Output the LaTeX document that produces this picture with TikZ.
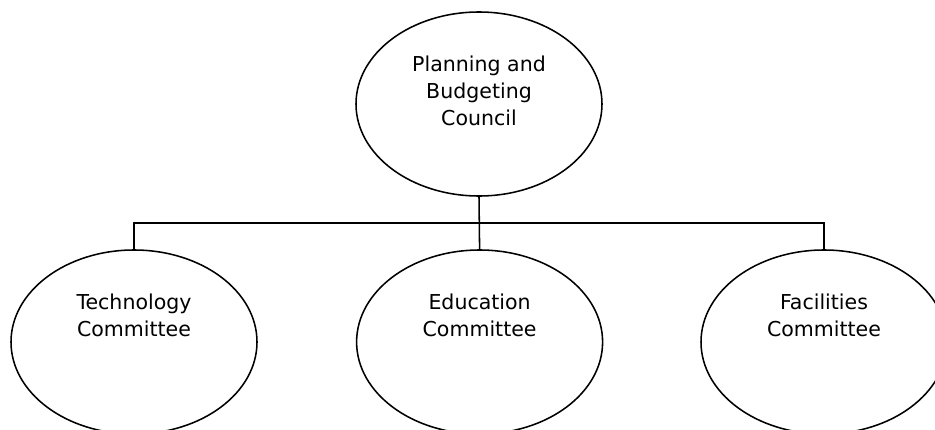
\documentclass[tikz,border=0pt]{standalone}
\usepackage{fontspec}
\setmainfont{DejaVu Sans}
\usetikzlibrary{shapes.geometric,positioning}

\begin{document}
\begin{tikzpicture}[line width=1.1pt,
    unit/.style={draw, ellipse, minimum width=6.15cm, minimum height=4.6cm, inner sep=0pt},
    unittext/.style={align=center, inner sep=0pt, font=\fontsize{14.6pt}{19.2pt}\selectfont}]
    \useasboundingbox (0,0) rectangle (23.375,10.725);
    
    \node[unit] (pbc) at (11.975,8.125) {};
    \node[unit] (tech) at (3.35,2.175) {};
    \node[unit] (edu) at (11.99,2.175) {};
    \node[unit] (fac) at (20.6,2.175) {};
    
    \node[unittext, below=1.1cm of pbc.north] (pbctext) {Planning and\\Budgeting\\Council};
    \node[unittext, below=1.1cm of tech.north] (techtext) {Technology\\Committee};
    \node[unittext, below=1.1cm of edu.north] (edutext) {Education\\Committee};
    \node[unittext, below=1.1cm of fac.north] (factext) {Facilities\\Committee};
    
    \coordinate (bus) at (0,5.15);
    \draw (pbc.south)--(edu.north);
    \draw (tech.north)--(tech.north |- bus)--(fac.north |- bus)--(fac.north);
\end{tikzpicture}
\end{document}
